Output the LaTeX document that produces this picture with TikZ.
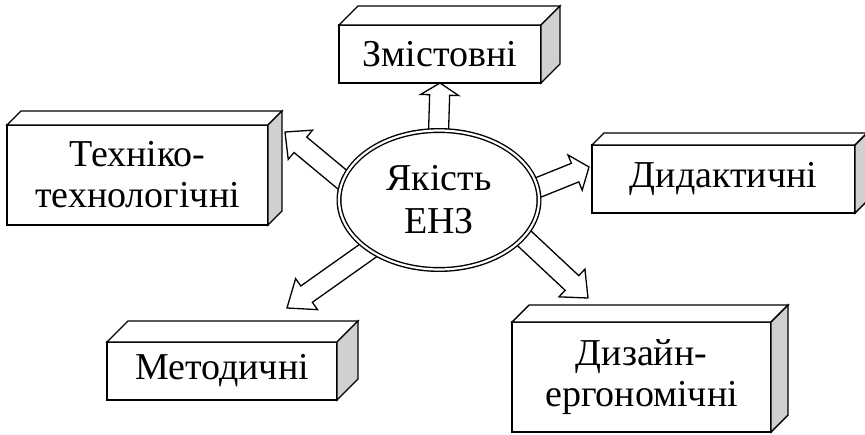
\documentclass[tikz,border=0pt]{standalone}
\usepackage{fontspec}
\setmainfont{Liberation Serif}
\usetikzlibrary{calc,shapes.geometric}

% hollow block arrow from #1 (tail) to #2 (tip); #3 = head length
\newcommand\blockarrow[3]{%
  \coordinate (ba-h) at ($(#2)!#3pt!(#1)$);
  \draw[arrowbody]
    ($(#1)!10pt!90:(#2)$) -- ($(ba-h)!10pt!90:(#2)$) -- ($(ba-h)!19pt!90:(#2)$)
    -- (#2)
    -- ($(ba-h)!19pt!-90:(#2)$) -- ($(ba-h)!10pt!-90:(#2)$) -- ($(#1)!10pt!-90:(#2)$)
    -- cycle;}

% 3-D slab behind a front face node #1, depth #2
\newcommand\slab[2]{%
  \draw[slabline, fill=white] (#1.north west) -- ++(#2,-#2)
     -- ($(#1.north east)+(#2,-#2)$) -- (#1.north east) -- cycle;
  \draw[slabline, fill=sidegray] (#1.north east) -- ++(#2,-#2)
     -- ($(#1.south east)+(#2,-#2)$) -- (#1.south east) -- cycle;}

\definecolor{sidegray}{RGB}{208,208,208}

\tikzset{
  slabline/.style={line width=1.4pt, line join=miter},
  face/.style={draw, line width=1.4pt, fill=white, outer sep=0pt, inner sep=0pt,
    align=center, font=\fontsize{38}{41}\selectfont},
  arrowbody/.style={draw, line width=1.3pt, fill=white, line join=miter},
  core/.style={ellipse, draw, double, double distance=2.2pt, line width=1.4pt,
    fill=white, inner sep=0pt, outer sep=0pt, align=center,
    font=\fontsize{38}{43}\selectfont}
}

\begin{document}
\begin{tikzpicture}[x=1pt, y=-1pt]
\useasboundingbox (0,0) rectangle (865,434);

% front faces of the slabs
\node[face, minimum width=202pt, minimum height=58pt] (zm)   at (440,54)    {Змістовні};
\node[face, minimum width=261pt, minimum height=100pt] (tech) at (137.5,175) {Техніко-\\технологічні};
\node[face, minimum width=263pt, minimum height=68pt] (did)  at (723.5,179) {Дидактичні};
\node[face, minimum width=230pt, minimum height=58pt] (met)  at (222,371)   {Методичні};
\node[face, minimum width=259pt, minimum height=110pt] (diz)  at (641.5,377) {Дизайн-\\ергономічні};

\slab{zm}{19}
\slab{tech}{14}
\slab{did}{12}
\slab{met}{21}
\slab{diz}{17}

% arrow end points
\coordinate (t1) at (438,150);  \coordinate (p1) at (zm.south);
\coordinate (t2) at (362,196);  \coordinate (p2) at (285,132);
\coordinate (t3) at (522,194);  \coordinate (p3) at (589,167);
\coordinate (t4) at (510,225);  \coordinate (p4) at (588,298);
\coordinate (t5) at (383,240);  \coordinate (p5) at (287,308);

\blockarrow{t1}{p1}{12}
\blockarrow{t2}{p2}{20}
\blockarrow{t3}{p3}{15}
\blockarrow{t4}{p4}{22}
\blockarrow{t5}{p5}{24}

% central ellipse drawn over the arrow tails
\node[core, minimum width=200pt, minimum height=139pt] (c) at (439,200) {Якість\\ЕНЗ};
\end{tikzpicture}
\end{document}
